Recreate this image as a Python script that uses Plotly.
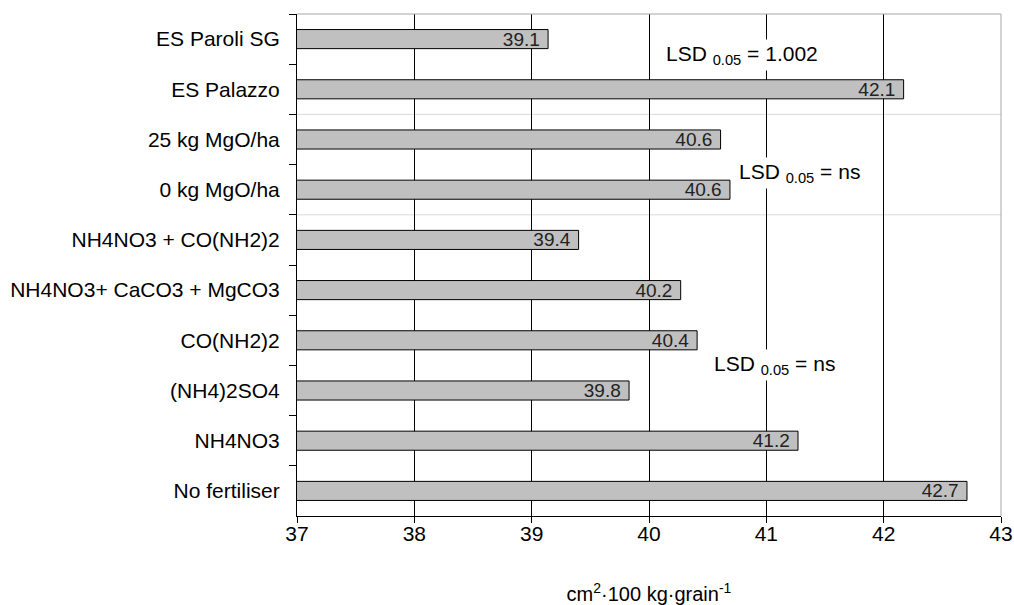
import plotly.graph_objects as go

categories = ["ES Paroli SG", "ES Palazzo", "25 kg MgO/ha", "0 kg MgO/ha",
              "NH4NO3 + CO(NH2)2", "NH4NO3+ CaCO3 + MgCO3", "CO(NH2)2",
              "(NH4)2SO4", "NH4NO3", "No fertiliser"]
values = [39.14, 42.17, 40.61, 40.69, 39.40, 40.27, 40.41, 39.83, 41.27, 42.71]
value_labels = ["39.1", "42.1", "40.6", "40.6", "39.4", "40.2", "40.4", "39.8", "41.2", "42.7"]
x_ticks = [37, 38, 39, 40, 41, 42, 43]

FONT = "Liberation Sans, Arial, sans-serif"

fig = go.Figure(go.Bar(
    x=values, y=categories, orientation="h", base=0,
    marker=dict(color="#c0c0c0", line=dict(color="#000000", width=1)),
    width=0.38,
    text=value_labels, texttemplate="%{text}\u00a0",
    textposition="inside", insidetextanchor="end",
    constraintext="none",
    textfont=dict(family=FONT, size=19, color="#222222"),
    cliponaxis=False,
))
# empty trace so the overlay label axis is drawn
fig.add_trace(go.Scatter(x=[], y=[], xaxis="x2", yaxis="y", mode="markers",
                         showlegend=False, hoverinfo="skip"))

fig.update_layout(
    width=1014, height=605,
    margin=dict(l=297, r=13, t=14, b=89, autoexpand=False),
    paper_bgcolor="white", plot_bgcolor="white",
    showlegend=False,
    font=dict(family=FONT, size=21, color="#000000"),
    xaxis=dict(
        range=[37, 43], tickvals=x_ticks,
        automargin=False,
        showgrid=True, gridcolor="#000000", gridwidth=1,
        showline=True, linecolor="#000000", linewidth=1,
        ticks="outside", ticklen=6, tickcolor="#000000",
        showticklabels=False,
        zeroline=False,
    ),
    # overlay axis carrying the tick labels and title (closer to the axis line)
    xaxis2=dict(
        overlaying="x", anchor="y", side="bottom",
        range=[37, 43], tickvals=x_ticks, ticktext=[str(t) for t in x_ticks],
        automargin=False, showgrid=False, showline=False, zeroline=False,
        ticks="", ticklabelstandoff=3,
        tickfont=dict(family=FONT, size=21, color="#000000"),
        title=dict(text="cm<sup>2</sup>·100 kg·grain<sup>-1</sup>",
                   font=dict(family=FONT, size=20, color="#000000"), standoff=50),
    ),
    yaxis=dict(
        categoryorder="array", categoryarray=categories, autorange="reversed",
        automargin=False,
        showgrid=False, showline=True, linecolor="#000000", linewidth=1,
        ticks="outside", ticklen=7, tickcolor="#000000", tickson="boundaries",
        tickfont=dict(family=FONT, size=21, color="#000000"),
        ticklabelstandoff=12,
    ),
)

# border (top / right) and group separators
fig.add_shape(type="line", xref="x domain", yref="y domain", x0=0, x1=1, y0=1, y1=1,
              line=dict(color="#a6a6a6", width=1))
fig.add_shape(type="line", xref="x domain", yref="y domain", x0=1, x1=1, y0=0, y1=1,
              line=dict(color="#a6a6a6", width=1))
for yd in [0.8, 0.6]:
    fig.add_shape(type="line", xref="x domain", yref="y domain", x0=0, x1=1, y0=yd, y1=yd,
                  line=dict(color="#d9d9d9", width=1), layer="below")

lsd = [("LSD <sub>0.05</sub> = 1.002", 40.79, 0.918),
       ("LSD <sub>0.05</sub> = ns", 41.28, 0.683),
       ("LSD <sub>0.05</sub> = ns", 41.07, 0.301)]
for txt, xx, yy in lsd:
    fig.add_annotation(text=txt, x=xx, y=yy, xref="x", yref="y domain",
                       xanchor="center", yanchor="middle",
                       showarrow=False, bgcolor="white",
                       font=dict(family=FONT, size=21, color="#000000"),
                       borderpad=2)

fig.write_html("out.html", config={"displayModeBar": False},
               post_script="document.body.style.margin='0';document.body.style.overflow='hidden';")
